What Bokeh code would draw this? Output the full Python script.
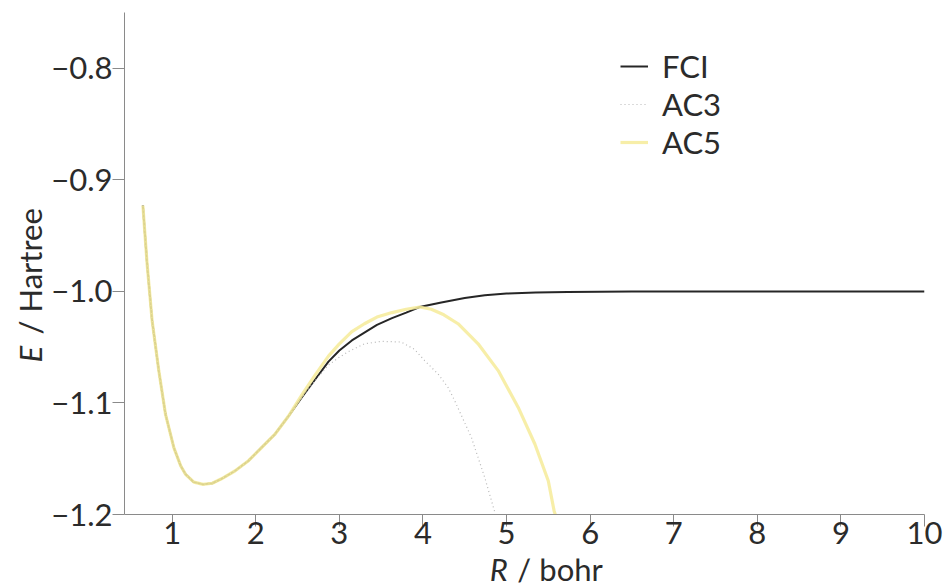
from bokeh.plotting import figure
from bokeh.layouts import row, column
from bokeh.models import Range1d, FixedTicker, Legend, LegendItem
from bokeh.core.properties import value
from bokeh.embed import file_html
from bokeh.resources import INLINE

# ---- data ----
R_fci = [0.65, 0.70, 0.76, 0.84, 0.92, 1.02, 1.10, 1.16, 1.26, 1.37, 1.48, 1.59,
         1.75, 1.91, 2.07, 2.23, 2.39, 2.55, 2.71, 2.87, 3.00, 3.15, 3.30, 3.45,
         3.63, 3.80, 3.96, 4.22, 4.50, 4.74, 5.00, 5.35, 5.73, 6.50, 8.00, 10.0]
E_fci = [-0.923, -0.975, -1.026, -1.071, -1.110, -1.140, -1.156, -1.164, -1.171,
         -1.173, -1.172, -1.168, -1.161, -1.152, -1.140, -1.128, -1.112, -1.095,
         -1.079, -1.063, -1.053, -1.044, -1.037, -1.030, -1.024, -1.019, -1.014,
         -1.010, -1.006, -1.0035, -1.002, -1.001, -1.0005, -1.0002, -1.0, -1.0]

R_ac3 = [0.65, 0.70, 0.76, 0.84, 0.92, 1.02, 1.10, 1.16, 1.26, 1.37, 1.48, 1.59,
         1.75, 1.91, 2.07, 2.23, 2.39, 2.55, 2.71, 2.87, 3.00, 3.11, 3.30, 3.50,
         3.74, 3.90, 4.02, 4.18, 4.30, 4.38, 4.58, 4.74, 4.86, 4.88]
E_ac3 = [-0.923, -0.975, -1.026, -1.071, -1.110, -1.140, -1.156, -1.164, -1.171,
         -1.173, -1.172, -1.168, -1.161, -1.152, -1.140, -1.128, -1.112, -1.095,
         -1.080, -1.066, -1.059, -1.054, -1.047, -1.0448, -1.0454, -1.052, -1.062,
         -1.074, -1.086, -1.098, -1.131, -1.167, -1.198, -1.205]

R_ac5 = [0.65, 0.70, 0.76, 0.84, 0.92, 1.02, 1.10, 1.16, 1.26, 1.37, 1.48, 1.59,
         1.75, 1.91, 2.07, 2.23, 2.39, 2.55, 2.71, 2.87, 3.00, 3.15, 3.30, 3.45,
         3.63, 3.80, 3.96, 4.10, 4.25, 4.42, 4.66, 4.90, 5.14, 5.34, 5.50, 5.57, 5.61]
E_ac5 = [-0.923, -0.975, -1.026, -1.071, -1.110, -1.140, -1.156, -1.164, -1.171,
         -1.173, -1.172, -1.168, -1.161, -1.152, -1.140, -1.128, -1.112, -1.093,
         -1.075, -1.058, -1.047, -1.036, -1.029, -1.023, -1.019, -1.016, -1.014,
         -1.016, -1.021, -1.029, -1.047, -1.071, -1.104, -1.137, -1.170, -1.197, -1.206]

x_ticks = [1, 2, 3, 4, 5, 6, 7, 8, 9, 10]
y_ticks = [-1.2, -1.1, -1.0, -0.9, -0.8]
y_tick_labels = ["\u22121.2", "\u22121.1", "\u22121.0", "\u22120.9", "\u22120.8"]

x_title = ["R", "/ bohr"]
y_title = ["E", "/ Hartree"]

FONT = "Lato"
FS = "31px"
TXT = "#2b2b2b"

X0, X1 = 0.43, 10.0
Y0, Y1 = -1.2, -0.75

W, H = 946, 585
YW = 48          # width of the strip holding the y title
MH = 558         # height of the main plot
XH = H - MH      # height of the strip holding the x title

# ---------------- main plot ----------------
p = figure(width=W - YW, height=MH, output_backend="svg", toolbar_location=None,
           x_range=Range1d(X0, X1), y_range=Range1d(Y0, Y1),
           min_border_left=123 - YW, min_border_right=22, min_border_top=12,
           min_border_bottom=MH - 514, background_fill_color="white",
           border_fill_color="white", outline_line_color=None)
p.xgrid.visible = False
p.ygrid.visible = False

r_fci = p.line(R_fci, E_fci, line_color="#262626", line_width=2)
r_ac3 = p.line(R_ac3, E_ac3, line_color="#b8b8b8", line_width=1.2, line_dash="1 3")
r_ac5 = p.line(R_ac5, E_ac5, line_color="#f6ec9c", line_width=3.2, line_alpha=0.88)

for ax in (p.xaxis[0], p.yaxis[0]):
    ax.axis_line_color = "#8a8a8a"
    ax.axis_line_width = 1
    ax.major_tick_line_color = "#8a8a8a"
    ax.major_tick_out = 12
    ax.major_tick_in = 0
    ax.minor_tick_line_color = None
    ax.major_label_text_font = FONT
    ax.major_label_text_font_size = FS
    ax.major_label_text_color = TXT

p.xaxis.ticker = FixedTicker(ticks=x_ticks)
p.xaxis.major_label_standoff = -5
p.yaxis.ticker = FixedTicker(ticks=y_ticks)
p.yaxis.major_label_overrides = {v: s for v, s in zip(y_ticks, y_tick_labels)}
p.yaxis.major_label_standoff = 0

legend = Legend(items=[LegendItem(label="FCI", renderers=[r_fci]),
                       LegendItem(label="AC3", renderers=[r_ac3]),
                       LegendItem(label="AC5", renderers=[r_ac5])],
                location=(496, 353), border_line_color=None,
                background_fill_alpha=0, padding=0, margin=0, spacing=-1,
                glyph_width=28, glyph_height=36, label_height=36,
                label_standoff=14, label_text_font=FONT,
                label_text_font_size=FS, label_text_color=TXT)
p.add_layout(legend)

# ---------------- y title strip (pixel coordinates) ----------------
fy = figure(width=YW, height=H, output_backend="svg", toolbar_location=None,
            x_range=Range1d(0, YW), y_range=Range1d(0, H),
            x_axis_type=None, y_axis_type=None, min_border=0,
            outline_line_color=None, background_fill_color="white",
            border_fill_color="white")
fy.text(x=[29], y=[H - 362], text=[y_title[0]], angle=90, angle_units="deg",
        text_font=value(FONT), text_font_style=value("italic"),
        text_font_size=value(FS), text_color=TXT, text_baseline="middle",
        text_align="left")
fy.text(x=[29], y=[H - 334], text=[y_title[1]], angle=90, angle_units="deg",
        text_font=value(FONT), text_font_size=value(FS), text_color=TXT,
        text_baseline="middle", text_align="left")

# ---------------- x title strip (pixel coordinates) ----------------
fx = figure(width=W - YW, height=XH, output_backend="svg", toolbar_location=None,
            x_range=Range1d(0, W - YW), y_range=Range1d(0, XH),
            x_axis_type=None, y_axis_type=None, min_border=0,
            outline_line_color=None, background_fill_color="white",
            border_fill_color="white")
fx.text(x=[458 - YW], y=[H - 568], text=[x_title[0]],
        text_font=value(FONT), text_font_style=value("italic"),
        text_font_size=value(FS), text_color=TXT, text_baseline="middle",
        text_align="left")
fx.text(x=[489 - YW], y=[H - 568], text=[x_title[1]],
        text_font=value(FONT), text_font_size=value(FS), text_color=TXT,
        text_baseline="middle", text_align="left")

layout = row(fy, column(p, fx, spacing=0), spacing=0)
open("out.html", "w").write(file_html(layout, INLINE))
